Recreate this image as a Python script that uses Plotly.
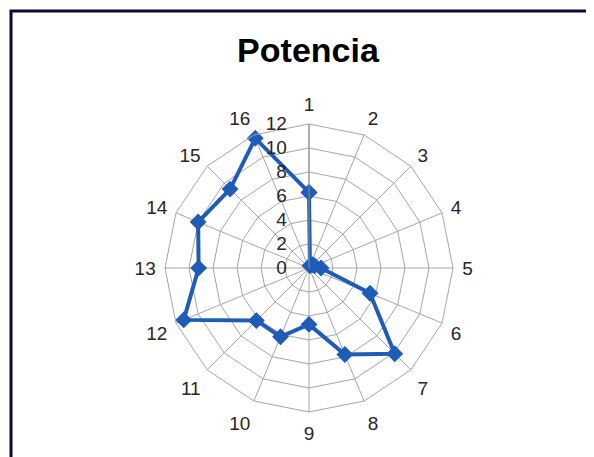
import plotly.graph_objects as go

# data
categories = [str(i) for i in range(1, 17)]
potencia = [6.3, 0.2, 0.4, 0.5, 1.0, 5.5, 10.1, 7.8, 4.7, 6.2, 6.2, 11.3, 9.2, 10.0, 9.3, 11.7]
radial_ticks = [0, 2, 4, 6, 8, 10, 12]

fig = go.Figure()
fig.add_trace(
    go.Scatterpolar(
        r=potencia + potencia[:1],
        theta=categories + categories[:1],
        mode="lines+markers",
        line=dict(color="#1f5cb8", width=4),
        marker=dict(symbol="diamond", size=13, color="#1f5cb8"),
        showlegend=False,
    )
)

# the page body adds an 8px margin, so positions are shifted up/left by 8px
fig.update_layout(
    width=594,
    height=457,
    margin=dict(l=0, r=0, t=0, b=0),
    paper_bgcolor="white",
    font=dict(family="Liberation Sans", color="#262626"),
    title=dict(
        text="<b>Potencia</b>",
        x=0.505,
        xanchor="center",
        y=0.908,
        yanchor="middle",
        font=dict(size=34, color="black"),
    ),
    polar=dict(
        domain=dict(x=[0.2643, 0.7492], y=[0.116, 0.7462]),
        gridshape="linear",
        bgcolor="white",
        radialaxis=dict(
            range=[0, 12],
            tickvals=radial_ticks,
            angle=90,
            tickangle=90,
            side="counterclockwise",
            showline=True,
            linecolor="#8c8c8c",
            linewidth=1,
            gridcolor="#a6a6a6",
            gridwidth=1,
            # invisible ticks just to push the labels away from the axis
            ticks="outside",
            ticklen=15,
            tickcolor="rgba(0,0,0,0)",
            tickfont=dict(size=19),
        ),
        angularaxis=dict(
            direction="clockwise",
            rotation=90,
            showline=True,
            linecolor="#a6a6a6",
            linewidth=1,
            gridcolor="#a6a6a6",
            ticks="outside",
            ticklen=5,
            tickcolor="rgba(0,0,0,0)",
            tickfont=dict(size=19),
        ),
    ),
    shapes=[
        dict(
            type="rect",
            xref="paper",
            yref="paper",
            x0=3 / 594,
            x1=582 / 594,
            y0=-0.05,
            y1=1 - 3 / 457,
            line=dict(color="#0a0a3a", width=3),
            layer="above",
        )
    ],
)

fig.write_html("out.html")
